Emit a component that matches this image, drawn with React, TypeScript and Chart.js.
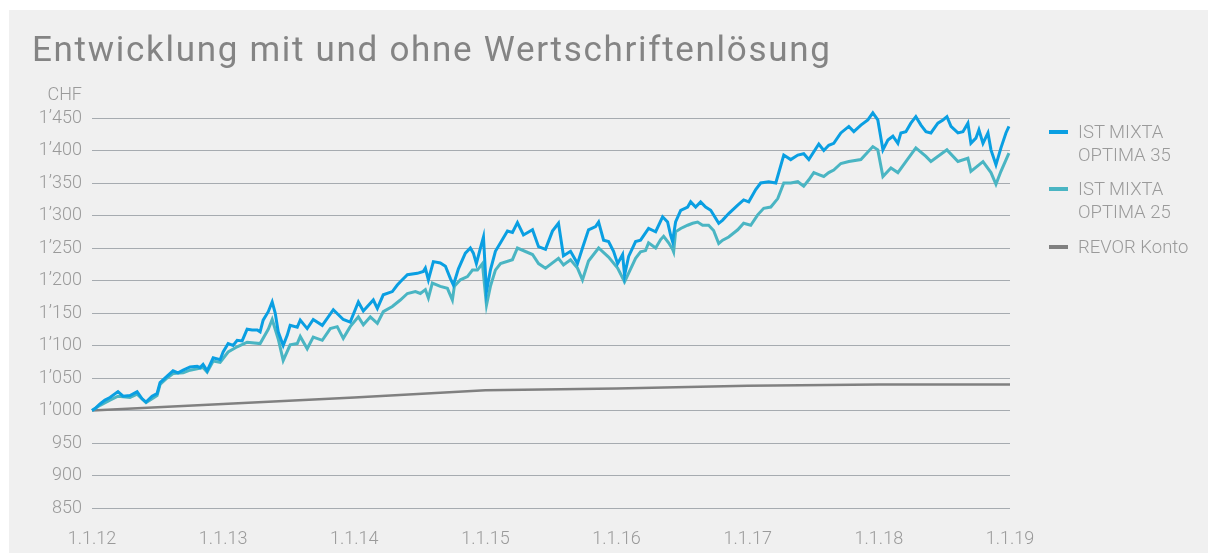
import React, { useEffect, useRef } from "react";
import { Chart, registerables } from "chart.js";

Chart.register(...registerables);

// Time in years since 1.1.12
const t35 = [0,0.023,0.061,0.099,0.137,0.198,0.237,0.29,0.344,0.382,0.412,0.458,0.496,0.519,0.573,0.618,0.656,0.695,0.748,0.802,0.824,0.847,0.878,0.924,0.977,1.0,1.038,1.076,1.107,1.145,1.183,1.221,1.26,1.282,1.305,1.344,1.374,1.397,1.42,1.458,1.489,1.511,1.565,
  1.588,1.641,1.687,1.756,1.84,1.916,1.969,2.031,2.069,2.145,2.176,2.221,2.29,2.328,2.351,2.405,2.481,2.527,2.542,2.565,2.603,2.656,2.695,2.733,2.756,2.794,2.847,2.885,2.908,2.931,2.962,2.985,3.008,3.038,3.076,3.115,
  3.168,3.206,3.244,3.29,3.359,3.405,3.458,3.511,3.557,3.595,3.649,3.702,3.74,3.786,3.84,3.863,3.901,3.939,3.977,4.008,4.046,4.061,4.092,4.145,
  4.183,4.244,4.298,4.351,4.389,4.412,4.427,4.45,4.489,4.542,4.565,4.603,4.641,4.679,4.718,4.779,4.809,4.855,4.924,4.969,5.008,5.061,5.099,5.16,5.214,5.275,5.328,5.382,5.427,5.466,5.504,5.542,5.58,5.618,5.656,
  5.71,5.771,5.809,5.863,5.916,5.954,5.992,6.031,6.069,6.107,6.145,6.168,6.206,6.244,6.282,6.321,6.359,6.397,6.45,6.489,6.519,6.55,6.603,6.641,6.679,6.702,6.74,6.763,6.794,6.832,6.855,6.893,6.931,6.969,6.992];
const v35 = [1000,1003,1010,1016,1020,1029,1022,1023,1029,1018,1013,1022,1026,1043,1053,1061,1058,1062,1067,1068,1066,1071,1061,1081,1078,1090,1103,1100,1108,1107,1125,1124,1124,1121,1139,1152,1167,1150,1121,1100,1116,1131,1128,
  1139,1126,1140,1131,1155,1140,1136,1167,1153,1170,1157,1178,1183,1193,1198,1209,1211,1214,1219,1201,1229,1227,1222,1203,1193,1218,1242,1250,1242,1226,1250,1267,1183,1216,1245,1258,
  1276,1274,1289,1270,1278,1252,1248,1276,1288,1238,1245,1226,1250,1278,1283,1290,1262,1260,1245,1226,1240,1208,1237,1260,
  1262,1280,1275,1298,1290,1270,1260,1290,1308,1313,1321,1313,1321,1313,1308,1288,1293,1303,1316,1324,1321,1340,1350,1352,1350,1393,1386,1393,1395,1386,1398,1410,1400,1408,1411,
  1427,1437,1429,1439,1447,1458,1447,1401,1416,1422,1411,1427,1429,1442,1452,1439,1429,1427,1442,1447,1452,1437,1427,1429,1442,1411,1419,1432,1411,1427,1401,1378,1404,1427,1437];

const t25 = [0,0.061,0.137,0.198,0.29,0.344,0.412,0.496,0.519,0.573,0.618,0.695,0.748,0.802,0.847,0.878,0.924,0.977,1.038,1.107,1.183,1.282,1.344,1.374,1.42,1.458,1.511,1.565,
  1.588,1.641,1.687,1.756,1.817,1.87,1.916,1.969,2.031,2.069,2.122,2.176,2.221,2.29,2.351,2.405,2.466,2.504,2.542,2.565,2.595,2.656,2.71,2.748,2.763,2.809,2.863,2.901,2.939,2.977,3.008,3.038,3.076,3.115,
  3.206,3.244,3.359,3.405,3.458,3.557,3.595,3.649,3.702,3.74,3.786,3.863,3.939,4.008,4.061,4.145,
  4.183,4.221,4.244,4.298,4.336,4.359,4.397,4.427,4.435,4.45,4.489,4.542,4.58,4.618,4.656,4.702,4.74,4.779,4.809,4.855,4.924,4.969,5.023,5.076,5.122,5.176,5.229,5.275,5.328,5.382,5.427,5.466,5.504,5.542,5.58,5.618,5.656,5.71,
  5.771,5.863,5.954,5.992,6.031,6.092,6.145,6.206,6.282,6.359,6.397,6.519,6.603,6.679,6.702,6.794,6.855,6.893,6.931,6.992];
const v25 = [1000,1008,1016,1022,1020,1025,1012,1023,1040,1050,1057,1058,1062,1064,1066,1059,1076,1074,1090,1098,1105,1103,1125,1140,1110,1077,1101,1103,
  1114,1095,1113,1108,1126,1129,1111,1129,1144,1132,1144,1134,1152,1160,1170,1180,1183,1180,1186,1173,1196,1191,1188,1170,1191,1201,1206,1216,1216,1226,1162,1191,1216,1226,
  1232,1250,1240,1226,1219,1234,1224,1232,1219,1201,1230,1250,1236,1219,1198,1234,
  1244,1246,1258,1250,1263,1268,1258,1248,1244,1275,1280,1285,1288,1290,1285,1285,1277,1257,1262,1267,1278,1288,1285,1301,1311,1313,1326,1350,1350,1352,1345,1355,1366,1363,1360,1366,1370,1380,
  1383,1386,1406,1401,1360,1373,1366,1383,1404,1391,1383,1401,1383,1388,1368,1383,1366,1348,1368,1396];

const tRevor = [0,1,2,3,4,5,6,7];
const vRevor = [1000,1010,1020,1031,1034,1038,1040,1040];

const yearLabels = ["1.1.12","1.1.13","1.1.14","1.1.15","1.1.16","1.1.17","1.1.18","1.1.19"];

const seriesNames = ["IST MIXTA\nOPTIMA 35", "IST MIXTA\nOPTIMA 25", "REVOR Konto"];
const seriesColors = ["#0a9fe2", "#4ab5c3", "#808080"];

const FONT = "Roboto, 'Liberation Sans', sans-serif";

function pts(t: number[], v: number[]) {
  return t.map((x, i) => ({ x, y: v[i] }));
}

function fmtY(v: number) {
  if (v >= 1000) {
    const th = Math.floor(v / 1000);
    const r = String(v % 1000).padStart(3, "0");
    return `${th}\u2019${r}`;
  }
  return String(v);
}

export default function App() {
  const ref = useRef<HTMLCanvasElement>(null);

  useEffect(() => {
    if (!ref.current) return;
    const chart = new Chart(ref.current, {
      type: "line",
      data: {
        datasets: [
          { label: seriesNames[0], data: pts(t35, v35), borderColor: seriesColors[0], borderWidth: 3, pointRadius: 0, tension: 0, clip: false },
          { label: seriesNames[1], data: pts(t25, v25), borderColor: seriesColors[1], borderWidth: 3, pointRadius: 0, tension: 0, clip: false },
          { label: seriesNames[2], data: pts(tRevor, vRevor), borderColor: seriesColors[2], borderWidth: 2.5, pointRadius: 0, tension: 0, clip: false },
        ],
      },
      options: {
        animation: false,
        responsive: false,
        maintainAspectRatio: false,
        layout: { padding: { left: 0, top: 108, right: 198, bottom: 0 } },
        plugins: { legend: { display: false }, title: { display: false }, tooltip: { enabled: false } },
        scales: {
          x: {
            type: "linear",
            min: 0,
            max: 7,
            grid: { display: false },
            border: { display: false },
            ticks: {
              stepSize: 1,
              autoSkip: false,
              maxRotation: 0,
              padding: 13,
              color: "#9a9a9a",
              font: { family: FONT, size: 18, weight: 300 },
              callback: (v: any) => yearLabels[Math.round(Number(v))] ?? "",
            },
            afterFit: (s: any) => { s.height = 45; },
          },
          y: {
            min: 850,
            max: 1450,
            grid: { color: "#a6abb0", lineWidth: 1, drawTicks: false },
            border: { display: false },
            ticks: {
              stepSize: 50,
              padding: 10,
              color: "#9a9a9a",
              font: { family: FONT, size: 18, weight: 300 },
              callback: (v: any) => fmtY(Number(v)),
            },
            afterFit: (s: any) => { s.width = 83; },
          },
        },
      },
    });
    return () => chart.destroy();
  }, []);

  const legendText: React.CSSProperties = {
    position: "absolute",
    fontFamily: FONT,
    fontWeight: 300,
    fontSize: 18.5,
    lineHeight: "23px",
    color: "#9a9a9a",
    whiteSpace: "pre",
  };

  const legendTops = [111, 168, 226];

  return (
    <div style={{ position: "fixed", left: 0, top: 0, width: 1208, height: 554, background: "#ffffff" }}>
      <div style={{ position: "absolute", left: 9, top: 10, width: 1199, height: 543, background: "#f0f0f0" }}>
        <canvas ref={ref} width={1199} height={543} style={{ position: "absolute", left: 0, top: 0 }} />
        <div style={{ position: "absolute", left: 23, top: 19, fontFamily: FONT, fontSize: 35, letterSpacing: 1.7, color: "#848484", whiteSpace: "nowrap" }}>
          Entwicklung mit und ohne Wertschriftenlösung
        </div>
        <div style={{ position: "absolute", left: 0, width: 73, textAlign: "right", top: 73, fontFamily: FONT, fontWeight: 300, fontSize: 18, color: "#9a9a9a" }}>
          CHF
        </div>
        {seriesNames.map((name, i) => (
          <React.Fragment key={i}>
            <div style={{ position: "absolute", left: 1040, top: legendTops[i] + 9, width: 19, height: 4, background: seriesColors[i] }} />
            <div style={{ ...legendText, left: 1069, top: legendTops[i] }}>{name}</div>
          </React.Fragment>
        ))}
      </div>
    </div>
  );
}
